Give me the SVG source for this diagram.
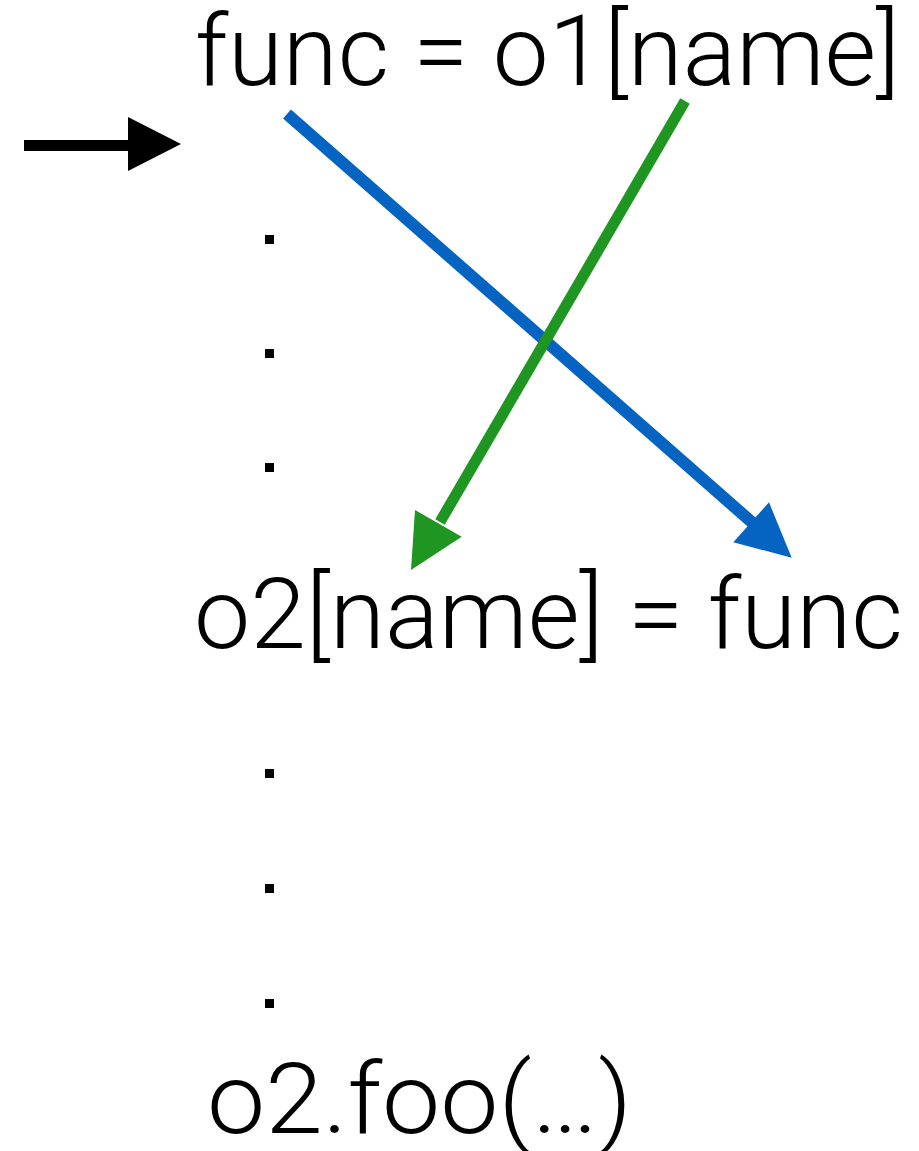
<svg xmlns="http://www.w3.org/2000/svg" width="919" height="1151" viewBox="0 0 919 1151">
<style>
.t{font-family:Roboto,"Liberation Sans",sans-serif;font-weight:300;font-size:98px;fill:#000}
.d{fill:#000}
</style>
<rect width="919" height="1151" fill="#fff"/>
<g id="n1"><text class="t" x="195" y="85" textLength="705" lengthAdjust="spacingAndGlyphs">func = o1[name]</text></g>
<g id="n2"><text class="t" x="194" y="648" textLength="709" lengthAdjust="spacingAndGlyphs">o2[name] = func</text></g>
<g id="n3"><text class="t" x="207" y="1133" textLength="425" lengthAdjust="spacingAndGlyphs">o2.foo(…)</text></g>
<g id="dots">
<rect class="d" x="265" y="235" width="9" height="9"/>
<rect class="d" x="265" y="349" width="9" height="9"/>
<rect class="d" x="265" y="463" width="9" height="9"/>
<rect class="d" x="265" y="769" width="9" height="9"/>
<rect class="d" x="265" y="884" width="9" height="9"/>
<rect class="d" x="265" y="999" width="9" height="9"/>
</g>
<g id="connectors">
<line x1="24" y1="145.5" x2="130" y2="145.5" stroke="#000" stroke-width="11"/>
<polygon points="128,117 181,144 128,171" fill="#000"/>
<line x1="287" y1="114" x2="755" y2="525" stroke="#0564C2" stroke-width="12"/>
<polygon points="791.7,557.7 733.3,542.3 769,502.3" fill="#0564C2"/>
<line x1="685" y1="101" x2="440" y2="522" stroke="#1E9621" stroke-width="11"/>
<polygon points="411,570 415,510 461.7,536.7" fill="#1E9621"/>
</g>
</svg>
